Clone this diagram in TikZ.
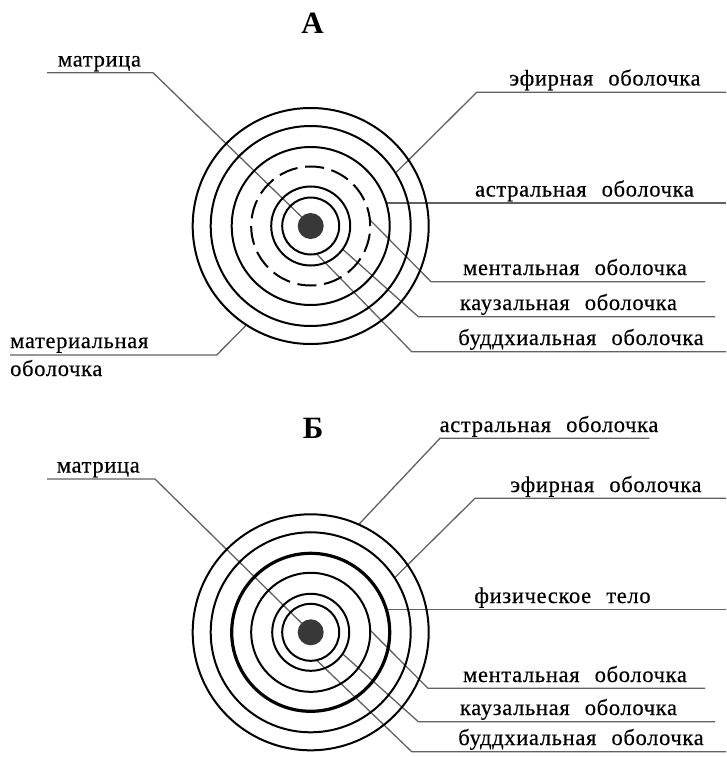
\documentclass[tikz,border=0pt]{standalone}
\usepackage{fontspec}
\setmainfont{Liberation Serif}
\newfontfamily\lblfont[WordSpace=2.4,LetterSpace=3,FakeBold=0.4]{Liberation Serif}
\usetikzlibrary{calc}
\pgfdeclarelayer{bg}
\pgfsetlayers{bg,main}
\begin{document}
\begin{tikzpicture}[x=1pt,y=-1pt,
  ring/.style={circle,draw=black,line width=2pt,inner sep=0pt,outer sep=0pt},
  thickring/.style={ring,line width=3.2pt},
  dashring/.style={ring,dash pattern=on 19pt off 7.7pt},
  core/.style={circle,fill=black!78,inner sep=0pt,outer sep=0pt,minimum size=26pt},
  lead/.style={draw=black!62,line width=1.3pt},
  lbl/.style={anchor=base,inner sep=0pt,font=\lblfont\fontsize{22.5}{27}\selectfont},
  lblw/.style={lbl,anchor=base west},
  ttl/.style={font=\fontsize{31}{31}\selectfont\bfseries,inner sep=0pt}]
\useasboundingbox (0,0) rectangle (726,757);

% ---------- Diagram A ----------
\node[ttl] (tA) at (312.5,23.5) {А};
\coordinate (CA) at (310.7,226);
\node[ring,minimum size=236pt] (A1) at (CA) {};
\node[ring,minimum size=200pt] (A2) at (CA) {};
\node[ring,minimum size=158pt] (A3) at (CA) {};
\node[dashring,minimum size=119pt] (A4) at (CA) {};
\node[ring,minimum size=79pt] (A5) at (CA) {};
\node[ring,minimum size=57pt] (A6) at (CA) {};
\node[core] (A0) at (CA) {};

\node[lbl] (lAm) at (99.5,66.5) {матрица};
\node[lbl] (lAe) at (605,85.5) {эфирная оболочка};
\node[lbl] (lAa) at (584.5,196.5) {астральная оболочка};
\node[lbl] (lAme) at (575,275) {ментальная оболочка};
\node[lbl] (lAk) at (568.5,310) {каузальная оболочка};
\node[lbl] (lAb) at (581,345) {буддхиальная оболочка};
\node[lblw] (lAmat1) at (10,348) {материальная};
\node[lblw] (lAmat2) at (10,376) {оболочка};

\coordinate (kAm) at (153,72.7);   \coordinate (eAm) at (47,72.7);
\coordinate (kAe) at (476.7,92.3); \coordinate (eAe) at (726,92.3);
\coordinate (eAa) at (726,203);
\coordinate (kAme) at (431,281.7); \coordinate (eAme) at (705,281.7);
\coordinate (kAk) at (418.3,316.7); \coordinate (eAk) at (715,316.7);
\coordinate (kAb) at (411.7,351.7); \coordinate (eAb) at (726,351.7);
\coordinate (kAmat) at (216.7,355); \coordinate (eAmat) at (10,355);

% ---------- Diagram B ----------
\node[ttl] (tB) at (313,428.5) {Б};
\coordinate (CB) at (310.7,632.3);
\node[ring,minimum size=236pt] (B1) at (CB) {};
\node[ring,minimum size=200pt] (B2) at (CB) {};
\node[thickring,minimum size=158pt] (B3) at (CB) {};
\node[ring,minimum size=119pt] (B4) at (CB) {};
\node[ring,minimum size=77pt] (B5) at (CB) {};
\node[ring,minimum size=57pt] (B6) at (CB) {};
\node[core] (B0) at (CB) {};

\node[lbl] (lBm) at (98.3,472.5) {матрица};
\node[lbl] (lBa) at (549,432) {астральная оболочка};
\node[lbl] (lBe) at (606,492) {эфирная оболочка};
\node[lbl] (lBf) at (562.5,603) {физическое тело};
\node[lbl] (lBme) at (575,682) {ментальная оболочка};
\node[lbl] (lBk) at (568.5,715) {каузальная оболочка};
\node[lbl] (lBb) at (581,745) {буддхиальная оболочка};

\coordinate (kBm) at (155,479);    \coordinate (eBm) at (47,479);
\coordinate (kBa) at (440,438.3);  \coordinate (eBa) at (649.3,438.3);
\coordinate (kBe) at (475,498.3);  \coordinate (eBe) at (726,498.3);
\coordinate (eBf) at (726,609.3);
\coordinate (kBme) at (428,688.3); \coordinate (eBme) at (705,688.3);
\coordinate (kBk) at (418.3,721.7); \coordinate (eBk) at (715,721.7);
\coordinate (kBb) at (411.7,751.7); \coordinate (eBb) at (726,751.7);

% ---------- leaders (under the rings) ----------
\begin{pgfonlayer}{bg}
\draw[lead] (A0.135) -- (kAm) -- (eAm);
\draw[lead] (A2.32) -- (kAe) -- (eAe);
\draw[lead] (A3.17) -- (A3.17 -| eAa);
\draw[lead] (A4.6) -- (kAme) -- (eAme);
\draw[lead] (A5.-36) -- (kAk) -- (eAk);
\draw[lead] (A6.-78) -- (kAb) -- (eAb);
\draw[lead] (A1.237) -- (kAmat) -- (eAmat);

\draw[lead] (B0.135) -- (kBm) -- (eBm);
\draw[lead] (B1.66) -- (kBa) -- (eBa);
\draw[lead] (B2.33) -- (kBe) -- (eBe);
\draw[lead] (B3.17) -- (B3.17 -| eBf);
\draw[lead] (B4.2) -- (kBme) -- (eBme);
\draw[lead] (B5.-34) -- (kBk) -- (eBk);
\draw[lead] (B6.-78) -- (kBb) -- (eBb);
\end{pgfonlayer}
\end{tikzpicture}
\end{document}
